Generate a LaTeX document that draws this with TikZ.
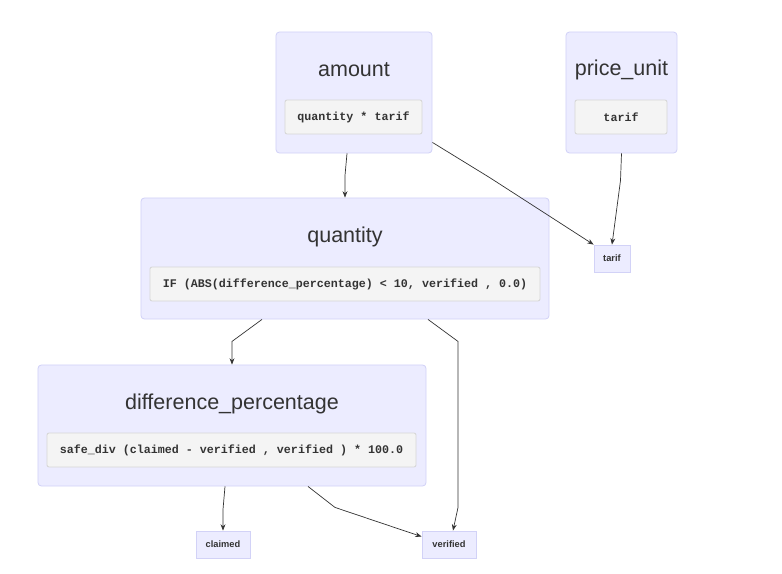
\documentclass[tikz,border=0pt]{standalone}
\usepackage{fontspec}
\setmainfont{Liberation Sans}
\setmonofont{Liberation Mono}
\usetikzlibrary{arrows.meta}

\definecolor{boxfill}{HTML}{ECECFF}
\definecolor{boxline}{HTML}{D2D2F7}
\definecolor{codefill}{HTML}{F4F4F4}
\definecolor{codeline}{HTML}{D6D6D6}
\definecolor{txt}{HTML}{333333}

\tikzset{
	varbox/.style={draw=boxline, fill=boxfill, rectangle, rounded corners=2.5pt, line width=0.6pt, minimum height=3.025cm},
	codebox/.style={draw=codeline, fill=codefill, rectangle, rounded corners=1.5pt, line width=0.6pt, minimum height=0.85cm, font=\ttfamily\bfseries\fontsize{8.3}{10}\selectfont, text=txt},
	vartitle/.style={font=\fontsize{15.3}{18}\selectfont, text=txt},
	leafbox/.style={draw=boxline, fill=boxfill, rectangle, line width=0.6pt, minimum height=0.675cm, font=\bfseries\fontsize{6.6}{8}\selectfont, text=txt},
	edge/.style={draw=black!80, line width=0.5pt, -{Stealth[length=4.5pt, width=3.5pt]}}
}

\begin{document}
\begin{tikzpicture}[x=0.025cm, y=-0.025cm]

	\useasboundingbox (0,0) rectangle (782,573);

	% amount
	\node[varbox, minimum width=3.9cm] (amount) at (354,92.5) {};
	\node[vartitle] (amounttitle) at (354,70) {amount};
	\node[codebox, minimum width=3.425cm] (amountcode) at (353.5,117) {quantity * tarif};
	% price_unit
	\node[varbox, minimum width=2.775cm] (priceunit) at (621.5,92.5) {};
	\node[vartitle] (priceunittitle) at (621.5,70) {price\_unit};
	\node[codebox, minimum width=2.3cm] (priceunitcode) at (621,117) {tarif};
	% quantity
	\node[varbox, minimum width=10.2cm] (quantity) at (345,258.5) {};
	\node[vartitle] (quantitytitle) at (345,237) {quantity};
	\node[codebox, minimum width=9.75cm] (quantitycode) at (345,284) {IF (ABS(difference\_percentage) < 10, verified , 0.0)};
	% difference_percentage
	\node[varbox, minimum width=9.7cm] (diffpct) at (232,425.5) {};
	\node[vartitle] (diffpcttitle) at (232,404) {difference\_percentage};
	\node[codebox, minimum width=9.225cm] (diffpctcode) at (231.5,450) {safe\_div (claimed - verified , verified ) * 100.0};

	% inputs
	\node[leafbox, minimum width=0.9cm] (tarif) at (612,258.5) {tarif};
	\node[leafbox, minimum width=1.35cm] (claimed) at (223,544.5) {claimed};
	\node[leafbox, minimum width=1.35cm] (verified) at (449,544.5) {verified};

	% dependencies
	\draw[edge] ([xshift=-0.175cm]amount.south) -- ++(-2,22) -- (quantity.north);
	\draw[edge] ([yshift=0.275cm]amount.south east) -- ++(57,35) -- (tarif.north west);
	\draw[edge] (priceunit.south) -- ++(-1,27) -- (tarif.north);
	\draw[edge] ([xshift=-2.075cm]quantity.south) -- ++(-30,22) -- (diffpct.north);
	\draw[edge] ([xshift=2.075cm]quantity.south) -- ++(30,22) -- ++(0,166) -- ([xshift=0.1cm]verified.north);
	\draw[edge] ([xshift=-0.175cm]diffpct.south) -- ++(-2,23) -- (claimed.north);
	\draw[edge] ([xshift=1.9cm]diffpct.south) -- ++(27,21) -- ([yshift=-0.15cm]verified.north west);

\end{tikzpicture}
\end{document}
